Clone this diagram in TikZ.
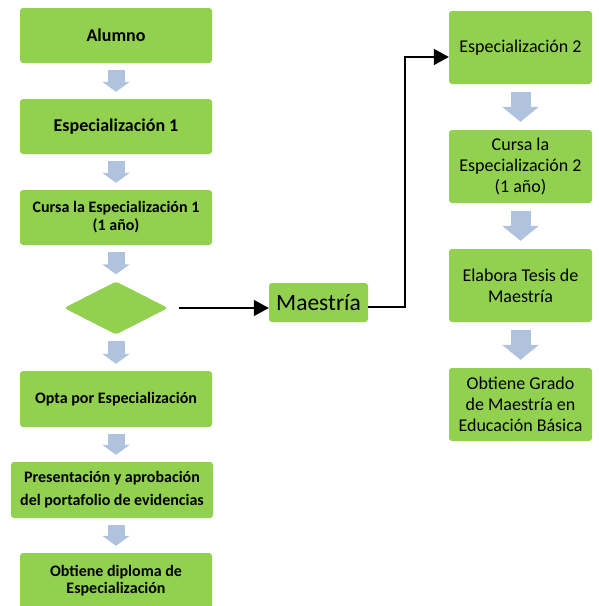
\documentclass[tikz,border=0pt]{standalone}
\usepackage{fontspec}
\setmainfont{Carlito}
\usetikzlibrary{arrows.meta}
\usetikzlibrary{shapes.geometric}
\definecolor{boxgreen}{HTML}{92D050}
\definecolor{arrowblue}{HTML}{B0C3DE}

\begin{document}
\begin{tikzpicture}[x=1pt,y=-1pt,
    box/.style={fill=boxgreen,rounded corners=3pt,align=center,inner sep=0pt},
    leftbox/.style={box,minimum width=192pt,minimum height=55pt,font=\bfseries\fontsize{16}{18}\selectfont},
    rightbox/.style={box,minimum width=143pt,minimum height=73pt,font=\fontsize{18}{21}\selectfont},
    smallarrow/.style={arrowblue,line width=17pt,-{Triangle[width=27pt,length=10pt]},shorten <=6.5pt,shorten >=7pt},
    bigarrow/.style={arrowblue,line width=20pt,-{Triangle[width=36pt,length=15pt]},shorten <=8pt,shorten >=8pt},
    flow/.style={line width=1.6pt,-{Triangle[width=16pt,length=15pt]}}]
      \useasboundingbox (0,0) rectangle (599,606);

      % left column: Especializacion
      \begin{scope}
          \node[leftbox,font=\bfseries\fontsize{18}{22}\selectfont] (alumno) at (116,35.5)  {Alumno};
          \node[leftbox,font=\bfseries\fontsize{18}{22}\selectfont] (esp1)   at (116,126.5) {Especialización 1};
          \node[leftbox]   (cursa1)   at (116,217.5) {Cursa la Especialización 1\\(1 año)};
          \node[box,shape=diamond,minimum width=104pt,minimum height=53pt] (decision) at (116,308) {};
          \node[leftbox,minimum height=56pt] (opta)     at (116,399) {Opta por Especialización};
          \node[leftbox,minimum width=202pt,minimum height=56pt,font=\bfseries\fontsize{16}{23}\selectfont] (presenta) at (112,490) {Presentación y aprobación\\del portafolio de evidencias};
          \node[leftbox,minimum height=56pt,font=\bfseries\fontsize{16}{17}\selectfont] (diploma)  at (116,581) {Obtiene diploma de\\Especialización};
      \end{scope}

      \node[box,minimum width=99pt,minimum height=39pt,font=\fontsize{23.5}{28}\selectfont] (maestria) at (318.5,302.5) {Maestría};

      % right column: Maestria
      \begin{scope}
          \node[rightbox] (esp2)   at (520.5,47.5)  {Especialización 2};
          \node[rightbox] (cursa2) at (520.5,166.5) {Cursa la\\Especialización 2\\(1 año)};
          \node[rightbox] (tesis)  at (520.5,285.5) {Elabora Tesis de\\Maestría};
          \node[rightbox] (grado)  at (520.5,404.5) {Obtiene Grado\\de Maestría en\\Educación Básica};
      \end{scope}

      \draw[smallarrow] (alumno)   -- (esp1);
      \draw[smallarrow] (esp1)     -- (cursa1);
      \draw[smallarrow] (cursa1)   -- (decision);
      \draw[smallarrow] (decision) -- (opta);
      \draw[smallarrow] (opta.south) -- (opta.south |- presenta.north);
      \draw[smallarrow] (opta.south |- presenta.south) -- (opta.south |- diploma.north);

      \draw[bigarrow] (esp2)   -- (cursa2);
      \draw[bigarrow] (cursa2) -- (tesis);
      \draw[bigarrow] (tesis)  -- (grado);

      \draw[flow] ([xshift=11pt]decision.east) -- (decision.east -| maestria.west);
      \draw[flow] ([yshift=-4.5pt]maestria.east) -| ([xshift=-44pt,yshift=-9.5pt]esp2.west) -- ([yshift=-9.5pt]esp2.west);
  \end{tikzpicture}
\end{document}
